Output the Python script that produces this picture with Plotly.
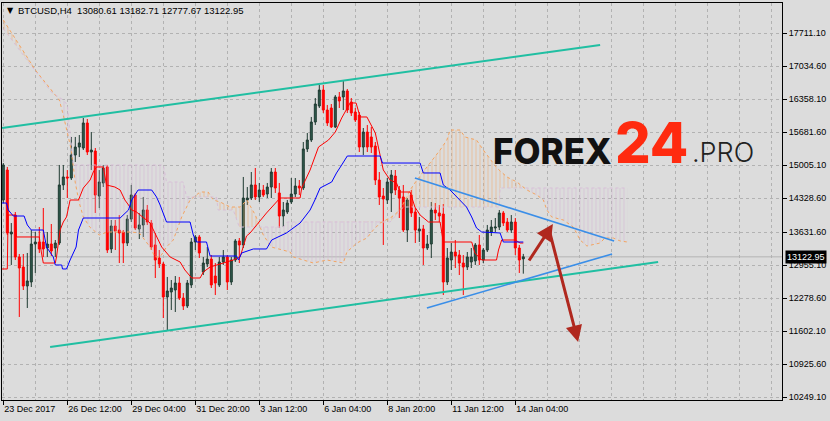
import numpy as np
import plotly.graph_objects as go

# ---------------- data ----------------
bar_index = list(range(131))
opens = [14288,14903,13591,13980,13120,12914,12525,12607,13386,13427,13427,13304,13386,13304,13406,14596,14760,14739,15210,15374,
         15354,15867,15272,15292,14370,14637,14965,13284,13755,13673,13632,13406,13898,14390,13694,13776,14083,13816,13366,13099,
         12976,12300,12402,12443,12586,12279,12115,12546,13427,13530,12812,12976,13078,12730,12546,13017,13120,12607,13058,13448,
         13366,14288,14329,14596,14350,14493,14411,14554,14862,14432,13960,14042,14247,14411,14575,14534,15334,15518,15887,16215,
         16543,16133,16174,15785,16400,16400,16523,16297,16092,16030,15374,15682,15580,15395,14698,14370,14288,14432,14780,14493,
         14350,13673,14390,14042,13652,13694,13304,13386,14083,14022,14001,12607,13058,13222,13160,12996,12914,13017,13038,13366,
         13058,13263,13632,13714,13734,14022,13837,13673,13837,13304,13080.61]
highs = [15046,14965,13816,14042,13181,13181,13202,13673,13632,13734,14124,13632,13796,13468,15006,15006,14903,15580,15580,15620,
         15969,15949,15682,15354,14903,15006,15006,13878,13878,13980,13673,13980,14596,14432,14022,14350,14186,13878,13612,13263,
         13017,12710,12648,12730,12710,12381,12648,13509,13570,13570,13120,13324,13160,12996,13120,13263,13160,13120,13488,13509,
         14760,14554,14862,14944,14637,14596,14637,14944,14944,14637,14247,14288,14739,14739,14698,15477,15662,15990,16379,16645,
         16645,16236,16256,16440,16502,16727,16564,16379,16174,16092,15764,15826,15785,15477,14862,14534,14739,14903,14903,14575,
         14596,14329,14493,14124,13940,13776,13570,14247,14226,14186,14206,13304,13406,13468,13263,13160,13222,13304,13406,13570,
         13304,13776,13878,13919,14083,14062,13919,13980,13919,13366,13182.71]
lows = [14226,13570,12956,13058,11890,12443,12074,12504,12792,13202,13120,13120,13140,13120,13366,14493,14329,14698,15067,15170,
        15313,15210,14903,14022,14124,14554,13202,13202,13263,12996,12996,13345,13837,13673,13488,13530,13776,13263,12689,12894,
        11869,11623,12033,11992,12238,12033,12074,12484,13263,13099,12750,12914,12484,12340,12504,12956,12443,12546,13017,12996,
        13304,14186,14288,14288,14247,14350,14329,14329,14432,13714,13734,14001,14206,14350,14390,14493,15272,15477,15826,16174,
        16072,15805,15764,15764,16174,16133,16072,16010,15887,15272,15210,15272,15252,14596,14186,13366,14206,14042,14390,13919,
        13632,13427,13940,13406,13427,12956,13263,13099,13878,13837,12340,12546,12853,12894,12750,12340,12853,12894,12956,12956,
        12996,13222,13550,13632,13673,13755,13632,13612,13160,12792,12777.67]
closes = [15006,13612,13632,13120,12894,12525,12628,13386,13427,13284,13284,13386,13242,13406,14596,14760,14739,15210,15374,15457,
          15867,15272,15313,14390,14657,14944,13263,13755,13652,13612,13406,13898,14390,13714,13776,14083,13837,13324,13058,12976,
          12300,12422,12484,12586,12279,12115,12586,13427,13530,13202,12996,13078,12546,12586,13017,13120,12607,13058,13448,13366,
          14329,14329,14596,14350,14493,14390,14554,14862,14534,13960,14083,14226,14411,14575,14534,15334,15518,15887,16256,16543,
          16133,15867,15785,16400,16318,16523,16133,16072,15928,15374,15682,15374,15374,14698,14350,14308,14657,14800,14493,14329,
          13673,14288,14022,13673,13694,13304,13386,14083,14022,13960,12607,13099,13222,13140,12996,12914,13120,13120,13366,13058,
          13263,13673,13734,13734,14022,13816,13673,13837,13304,13058,13122.95]

# Ichimoku lines (bar index, price)
tenkan_x = [-0.5,1,1.2,3,3.3,9,9.5,10,13,13.3,14.2,15,15.8,16.7,18.8,20,21.7,22.5,23.3,25,25.8,27.9,29.2,30.4,31.3,32.1,33.3,
            36.7,37.9,39.6,41.7,44.2,45.4,47.1,49.2,50,51.7,54.2,57.5,59.2,60.8,61.7,65.8,69.2,74.2,74.6,76.7,78.8,81.3,83,84.6,
            86.7,88.2,89.2,90.9,93,94.2,95,96.7,98.3,99.2,101.7,102.9,104.2,106.3,109.2,110,117.1,117.9,119.6,123.3,123.8,124.6,
            128,129.2,130]
tenkan_y = [12874,12874,13980,13980,13530,13530,13222,12996,12996,13120,13673,13837,13940,14288,14288,14534,14698,14862,14965,
            14965,14596,14554,14493,14288,14186,14083,14042,13816,13612,13324,13120,13017,12853,12689,12689,12812,12914,12976,
            13058,13120,13550,13612,14022,14329,14329,14534,14903,15374,15518,15682,15969,16277,16277,15990,15990,15662,15170,
            14903,14698,14637,14452,14452,14144,13980,13837,13837,13427,13427,13202,13058,13058,13263,13468,13468,13406,13406]
kijun_x = [-0.5,0.8,1.25,2.5,5.2,6,7,10,10.8,12.5,13,14.6,14.8,15.8,16.7,18.2,18.8,20,29.2,30.4,31.3,32.1,33.7,37.1,38.3,39.2,
           40.8,46.7,47.5,48.3,50.8,51.7,58.3,58.8,59.6,62.5,65.8,67.1,70.8,74.2,76.7,77.9,79.2,82.1,83.3,84.6,86,94.2,94.8,
           104.2,105,109.2,110,111.7,113.3,115.8,117.1,118.3,119.6,124.2,125,130]
kijun_y = [14226,14226,14083,13960,13960,13776,13673,13673,13324,13120,12956,12956,12874,12874,13058,13324,13673,13919,13919,
           14022,14083,14288,14493,14493,14350,14186,13837,13837,13570,13427,13427,13140,13140,13058,13202,13284,13284,13468,
           13612,13816,14083,14288,14534,14657,14842,15006,15190,15190,15046,15046,14842,14842,14596,14493,14350,14144,13940,
           13714,13632,13612,13427,13427]
span_a_x = [0,4,8,12,14,15,16,17,18,19,20,21.6,24,26,32,34,36.7,37.9,39.2,40.8,42.5,44.6,46.7,49.2,51.2,52.5,54.2,56.7,59.2,
            60.9,63,65,67,71.7,72.5,75,77.5,80.9,83.4,85,85.9,88.4,90.9,92.5,94.2,97.1,99.2,101.7,103.4,105.9,108,109.2,110.9,
            111.7,114.2,115.4,118.3,120,123.4,125.9,128.4,130.9,133.4,135,135.9,137.1,140,142.5,144.2,145.9,149.2,150.4,152.5,
            154.2,156]
span_a_y = [17978,17466,16953,16543,16338,16030,15662,15313,14637,14226,13940,13734,13570,13632,13632,13612,13324,13120,13120,
            13324,13468,13940,14288,14452,14452,14288,14247,14144,14144,14288,13980,13570,13324,13222,13120,13058,12996,13058,
            13017,12996,13222,13406,13509,13673,13816,13940,14083,14493,14698,14965,15170,15313,15518,15723,15723,15580,15518,
            15313,14944,14760,14657,14493,14390,14288,14083,13940,13878,13734,13468,13345,13406,13509,13509,13448,13427]
span_b_x = [0,6,12,15,16,17.5,40,40.8,45,45.8,53.3,53.7,57.5,59,70,71,96.7,100,124,124.2,156]
span_b_y = [17800,17150,16500,16338,16236,15006,15006,14657,14657,14350,14350,14083,14083,13734,13734,13837,13837,14144,14144,
            14534,14534]

# drawn objects (bar index, price)
channel_upper = ([-0.3, 149.2], [15764, 17466])
channel_lower = ([11.7, 163.7], [11275, 13017])
triangle_upper = ([102.9, 152.7], [14739, 13448])
triangle_lower = ([105.9, 152.2], [12074, 13181])
arrow_up = ((131.2, 13017), (137.4, 13796))
arrow_down = ((136.4, 13694), (143.7, 11377))

x_tick_pos = [0, 16, 32, 48, 64, 80, 96, 112, 128]
x_tick_text = ["23 Dec 2017", "26 Dec 12:00", "29 Dec 04:00", "31 Dec 20:00", "3 Jan 12:00",
               "6 Jan 04:00", "8 Jan 20:00", "11 Jan 12:00", "14 Jan 04:00"]
y_tick_vals = [17711.10, 17034.60, 16358.10, 15681.60, 15005.10, 14328.60, 13631.60,
               12955.10, 12278.60, 11602.10, 10925.60, 10249.10]
symbol = "BTCUSD,H4"
last_price = closes[-1]

# ---------------- figure ----------------
BG = "#DCDCDC"
fig = go.Figure()

# cloud hatch
grid = np.union1d(np.union1d(span_a_x, span_b_x), np.arange(0, 156.01, 0.25))
a_g = np.interp(grid, span_a_x, span_a_y)
b_g = np.interp(grid, span_b_x, span_b_y)
top = np.maximum(a_g, b_g)
for low_line, col in ((b_g, "rgba(244,164,96,0.85)"), (a_g, "rgba(210,180,210,0.95)")):
    fig.add_trace(go.Scatter(x=grid, y=low_line, mode="lines", line=dict(width=0),
                             hoverinfo="skip", showlegend=False))
    fig.add_trace(go.Scatter(x=grid, y=top, mode="lines", line=dict(width=0), fill="tonexty",
                             fillcolor="rgba(0,0,0,0)",
                             fillpattern=dict(shape="|", size=4, solidity=0.3, fgcolor=col,
                                              bgcolor="rgba(0,0,0,0)"),
                             hoverinfo="skip", showlegend=False))
fig.add_trace(go.Scatter(x=span_a_x, y=span_a_y, mode="lines",
                         line=dict(color="#F4A460", width=1, dash="dot"), showlegend=False))
fig.add_trace(go.Scatter(x=span_b_x, y=span_b_y, mode="lines",
                         line=dict(color="#D8BFD8", width=1, dash="dot"), showlegend=False))

fig.add_trace(go.Candlestick(
    x=bar_index, open=opens, high=highs, low=lows, close=closes,
    increasing=dict(line=dict(color="#1E3A31", width=1), fillcolor="#2F5C4D"),
    decreasing=dict(line=dict(color="#FF0000", width=1), fillcolor="#FF0000"),
    whiskerwidth=0, showlegend=False))

fig.add_trace(go.Scatter(x=tenkan_x, y=tenkan_y, mode="lines",
                         line=dict(color="#FF0000", width=1), showlegend=False))
fig.add_trace(go.Scatter(x=kijun_x, y=kijun_y, mode="lines",
                         line=dict(color="#0000FF", width=1), showlegend=False))

# price line
fig.add_hline(y=last_price, line=dict(color="#B4B4B4", width=1), layer="below")

# trend lines
for (xs, ys), col, w in ((channel_upper, "#20BFA2", 2), (channel_lower, "#20BFA2", 2),
                         (triangle_upper, "#3A8EE8", 1.6), (triangle_lower, "#3A8EE8", 1.6)):
    fig.add_shape(type="line", x0=xs[0], x1=xs[1], y0=ys[0], y1=ys[1], xref="x", yref="y",
                  line=dict(color=col, width=w))

for tail, head in (arrow_up, arrow_down):
    fig.add_annotation(x=head[0], y=head[1], ax=tail[0], ay=tail[1], xref="x", yref="y",
                       axref="x", ayref="y", text="", showarrow=True, arrowhead=2,
                       arrowsize=1.1, arrowwidth=3, arrowcolor="#B0281E")

def px(x):
    return (x - 2) / 780.0

def py(y):
    return (400 - y) / 397.0

# header
fig.add_annotation(xref="paper", yref="paper", x=px(5), y=py(11), xanchor="left", yanchor="middle",
                   text="▼", showarrow=False, font=dict(family="DejaVu Sans", size=8, color="black"))
fig.add_annotation(xref="paper", yref="paper", x=px(16), y=py(11), xanchor="left", yanchor="middle",
                   text=symbol + "\u00a0\u00a0" + " ".join(f"{v:.2f}" for v in (opens[-1], highs[-1], lows[-1], closes[-1])),
                   showarrow=False, font=dict(family="Liberation Sans", size=9.5, color="black"))

# current price tag
fig.add_annotation(xref="paper", yref="y", x=1, y=last_price, xanchor="left", yanchor="middle",
                   xshift=3, text=f"{last_price:.2f}", showarrow=False, bgcolor="black",
                   borderpad=1, font=dict(family="Liberation Sans", size=9, color="white"))

# logo
fig.add_annotation(xref="paper", yref="paper", x=px(491), y=py(151), xanchor="left", yanchor="middle",
                   text="FOREX", showarrow=False,
                   font=dict(family="Inter, Lato, Open Sans", size=35, color="#111111", weight=800))
fig.add_annotation(xref="paper", yref="paper", x=px(613), y=py(143), xanchor="left", yanchor="middle",
                   text="24", showarrow=False,
                   font=dict(family="Inter, Lato, Open Sans", size=56, color="#FF2A0F", weight=800))
fig.add_annotation(xref="paper", yref="paper", x=px(690), y=py(153), xanchor="left", yanchor="middle",
                   text=".PRO", showarrow=False,
                   font=dict(family="Inter, Lato, Open Sans", size=27, color="#222222", weight=300))

grid_col = "#B2B2B2"
fig.update_layout(
    width=830, height=421,
    margin=dict(l=2, r=48, t=3, b=21),
    paper_bgcolor=BG, plot_bgcolor=BG,
    showlegend=False,
    xaxis=dict(range=[-0.325, 194.675], tickmode="array", tickvals=x_tick_pos, ticktext=x_tick_text,
               ticks="outside", ticklen=4, tickcolor="black", ticklabelposition="outside right",
               showgrid=True, gridcolor=grid_col, griddash="3px,3px", gridwidth=1,
               minor=dict(tickmode="array", tickvals=list(range(0, 200, 8)), showgrid=True,
                          gridcolor=grid_col, griddash="3px,3px", ticks=""),
               showline=True, linecolor="black", linewidth=1, mirror=True, zeroline=False,
               rangeslider=dict(visible=False),
               tickfont=dict(family="Liberation Sans", size=9, color="black")),
    yaxis=dict(range=[10188, 18326.5], side="right", tickmode="array", tickvals=y_tick_vals,
               ticktext=[f"{v:.2f}" for v in y_tick_vals],
               ticks="outside", ticklen=4, tickcolor="black",
               showgrid=True, gridcolor=grid_col, griddash="3px,3px", gridwidth=1,
               showline=True, linecolor="black", linewidth=1, mirror=True, zeroline=False,
               tickfont=dict(family="Liberation Sans", size=9, color="black")),
)

fig.write_html("out.html", config={"displayModeBar": False},
               post_script="document.body.style.margin='0';document.body.style.background='#DCDCDC';")
